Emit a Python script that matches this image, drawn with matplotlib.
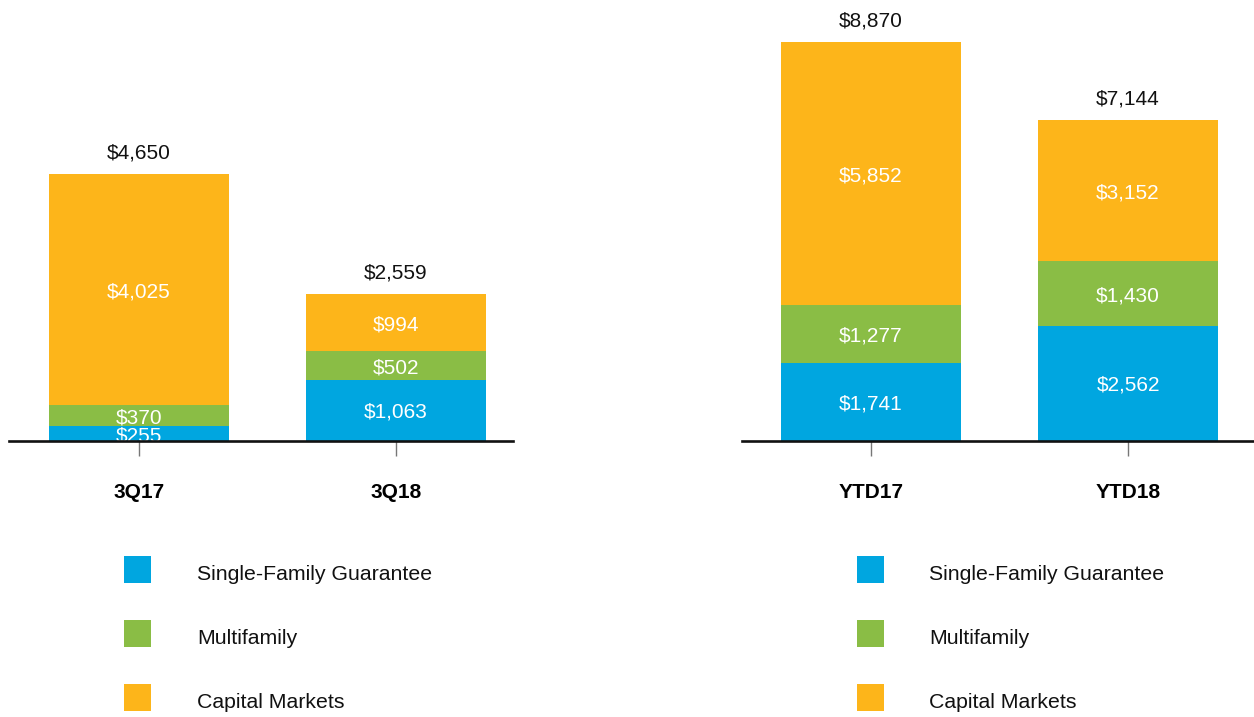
import matplotlib
matplotlib.use("Agg")
import matplotlib.pyplot as plt
from matplotlib.patches import Rectangle

plt.rcParams['font.family'] = ['Liberation Sans', 'DejaVu Sans']

series = ["Single-Family Guarantee", "Multifamily", "Capital Markets"]
colors = ["#00A6E0", "#8ABD45", "#FDB51A"]

cats_q = ["3Q17", "3Q18"]
sf_q = [255, 1063]
mf_q = [370, 502]
cm_q = [4025, 994]
tot_q = [4650, 2559]

cats_y = ["YTD17", "YTD18"]
sf_y = [1741, 2562]
mf_y = [1277, 1430]
cm_y = [5852, 3152]
tot_y = [8870, 7144]

W, H = 1254, 717
fig = plt.figure(figsize=(W / 100, H / 100), dpi=100)


def px_axes(x0, x1, y_top, y_bot):
    return fig.add_axes([x0 / W, 1 - y_bot / H, (x1 - x0) / W, (y_bot - y_top) / H])


def panel(ax, cats, sf, mf, cm, tot, ymax, xlim):
    xs = list(range(len(cats)))
    bw = 0.70
    bottoms = [0] * len(cats)
    for vals, col in zip([sf, mf, cm], colors):
        ax.bar(xs, vals, bw, bottom=bottoms, color=col, edgecolor='none', zorder=2)
        for x, b, v in zip(xs, bottoms, vals):
            ax.text(x, b + v / 2, f"${v:,}", ha='center', va='center_baseline',
                    color='white', fontsize=15, zorder=3)
        bottoms = [b + v for b, v in zip(bottoms, vals)]
    for x, t in zip(xs, tot):
        ax.annotate(f"${t:,}", (x, t), xytext=(0, 23), textcoords='offset pixels',
                    ha='center', va='center_baseline', fontsize=15, color='#111111')
    ax.set_xlim(*xlim)
    ax.set_ylim(0, ymax)
    ax.set_xticks(xs)
    ax.set_xticklabels(cats, fontsize=15, fontweight='bold')
    ax.tick_params(axis='x', length=11, width=1, color='#777777', pad=19)
    ax.set_yticks([])
    for s in ['top', 'right', 'left']:
        ax.spines[s].set_visible(False)
    ax.spines['bottom'].set_linewidth(1.9)
    ax.spines['bottom'].set_color('#111111')
    ax.spines['bottom'].set_zorder(4)


ax1 = px_axes(9, 513, 0, 441)
panel(ax1, cats_q, sf_q, mf_q, cm_q, tot_q, 441 / 0.05742, (-0.506, 1.455))

ax2 = px_axes(742, 1254, 0, 441)
panel(ax2, cats_y, sf_y, mf_y, cm_y, tot_y, 441 / 0.04498, (-0.502, 1.49))

# legends
for sq_x, tx_x in [(124, 197), (857, 929)]:
    for i, (name, col) in enumerate(zip(series, colors)):
        yc = 569.5 + 64 * i
        fig.add_artist(Rectangle((sq_x / W, 1 - (yc + 13.5) / H), 27 / W, 27 / H,
                                 transform=fig.transFigure, facecolor=col,
                                 edgecolor='none'))
        fig.text(tx_x / W, 1 - (yc + 3) / H, name, ha='left', va='center_baseline',
                 fontsize=15.3, color='#111111')

fig.savefig("out.png", dpi=100)
